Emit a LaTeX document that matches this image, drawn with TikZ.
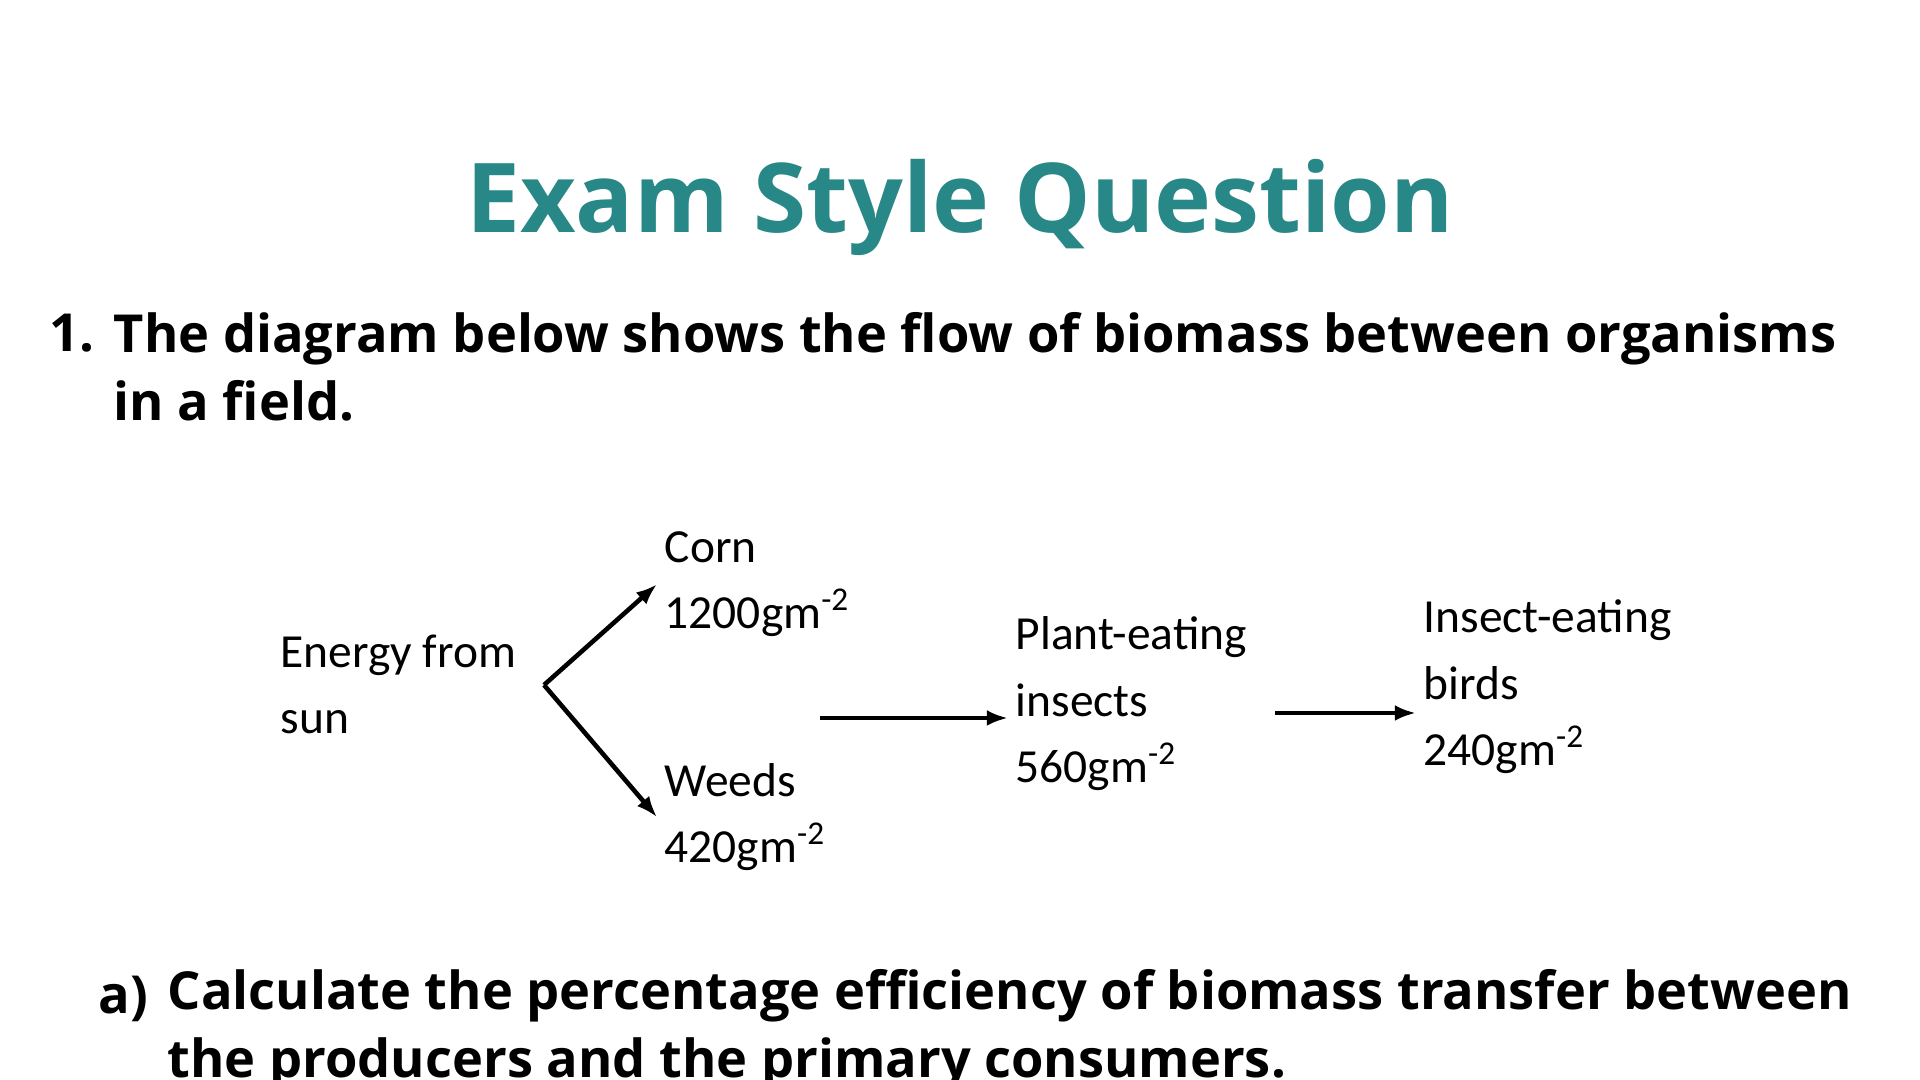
\documentclass[tikz,border=0pt]{standalone}
\usepackage{fontspec}
\setmainfont{Open Sans}
\newfontfamily\calibri{Carlito}
\usepackage{tikz}
\usetikzlibrary{arrows.meta}
\definecolor{examteal}{RGB}{40,135,135}

\begin{document}
\begin{tikzpicture}[x=0.01cm,y=-0.01cm,
		title text/.style={anchor=base,inner sep=0pt,text=examteal,font=\fontsize{27.4}{32}\selectfont\bfseries},
		question text/.style={anchor=base west,inner sep=0pt,align=left,font=\fontsize{14.9}{19.6}\selectfont\bfseries},
		organism/.style={anchor=base west,inner sep=2pt,align=left,font=\calibri\fontsize{13.5}{19}\selectfont},
		flow/.style={-{Latex[length=6pt,width=4.5pt]},line width=1.3pt}
		]
		
		\clip (0,0) rectangle (1920,1080);
		\fill[white] (0,0) rectangle (1920,1080);
		
		% base anchor = last line
		\node[title text] (title) at (960,233) {Exam Style Question};
		
		\node[question text] (q1num) at (49,352) {1.};
		\node[question text] (q1) at (113,421) {The diagram below shows the flow of biomass between organisms\\in a field.};
		\node[question text] (qanum) at (98,1014) {a)};
		\node[question text] (qa) at (167,1078) {Calculate the percentage efficiency of biomass transfer between\\the producers and the primary consumers.};
		
		\node[organism] (sun) at (273,734) {Energy from\\sun};
		\node[organism] (corn) at (657,629) {Corn\\1200gm\textsuperscript{-2}};
		\node[organism] (weeds) at (657,863) {Weeds\\420gm\textsuperscript{-2}};
		\node[organism] (insects) at (1008,783) {Plant-eating\\insects\\560gm\textsuperscript{-2}};
		\node[organism] (birds) at (1416,766) {Insect-eating\\birds\\240gm\textsuperscript{-2}};
		
		\coordinate (fork) at (544,685);
		\coordinate (a1) at (820,718);
		\coordinate (a2) at (1275,713);
		
		\draw[flow] (fork) -- (corn.west);
		\draw[flow] (fork) -- (weeds.west);
		\draw[flow] (a1) -- (insects.west |- a1);
		\draw[flow] (a2) -- (birds.west |- a2);
		\end{tikzpicture}
\end{document}
